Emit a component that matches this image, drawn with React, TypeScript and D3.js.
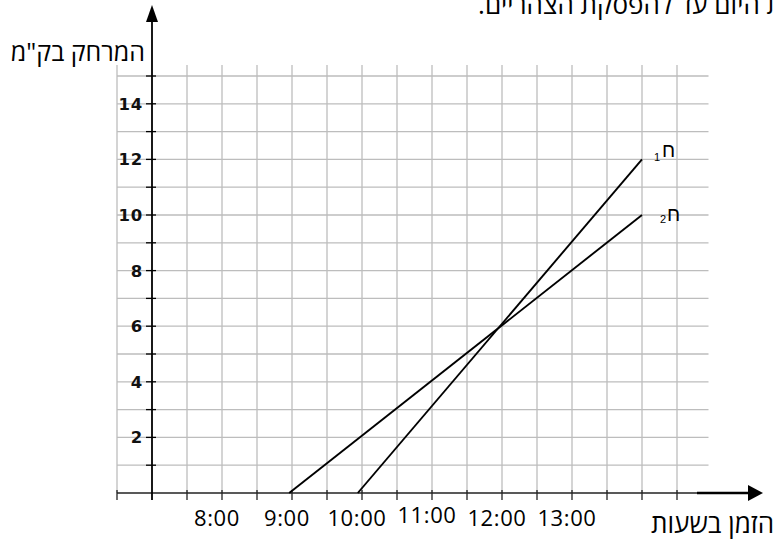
import React from "react";
import * as d3 from "d3";

// ---- data ----
const hourTicks = [8, 9, 10, 11, 12, 13];
const hourLabels = ["8:00", "9:00", "10:00", "11:00", "12:00", "13:00"];
const distTickLabels = [2, 4, 6, 8, 10, 12, 14];
const distMinorTicks = [1, 3, 5, 7, 9, 11, 13, 15];
const gridTimes = [6.5, 7.5, 8, 8.5, 9, 9.5, 10, 10.5, 11, 11.5, 12, 12.5, 13, 13.5, 14, 14.5];
const gridDists = [1, 2, 3, 4, 5, 6, 7, 8, 9, 10, 11, 12, 13, 14, 15];
const seriesNames = ["ח", "ח"];
const seriesSubs = ["1", "2"];
const s1Times = [9.94, 14];
const s1Dist = [0, 12];
const s2Times = [8.96, 14];
const s2Dist = [0, 10];
const yTitle = "המרחק בק\"מ";
const xTitle = "הזמן בשעות";
const topText = "ת היום עד להפסקת הצהריים.";

export default function App() {
  const W = 776, H = 541;
  const x = d3.scaleLinear().domain([7, 14]).range([152, 642]);
  const y = d3.scaleLinear().domain([0, 15]).range([493, 76]);
  const line = d3.line<[number, number]>().x(d => x(d[0])).y(d => y(d[1]));
  const s1 = s1Times.map((t, i) => [t, s1Dist[i]] as [number, number]);
  const s2 = s2Times.map((t, i) => [t, s2Dist[i]] as [number, number]);
  const y0 = y(0);
  const x0 = x(7);
  const gridRight = x(14.95);
  const gridLeft = x(6.5);
  const gridTop = y(15) - 11;
  const heb = "'Open Sans', 'DejaVu Sans', sans-serif";

  return (
    <svg width={W} height={H} style={{ position: "absolute", left: 0, top: 0, background: "#fff" }}>
      <defs>
        <clipPath id="clip11">
          <rect x={0} y={0} width={W} height={523} />
        </clipPath>
      </defs>
      <rect x={0} y={0} width={W} height={H} fill="#fff" />
      {/* top clipped sentence */}
      <text x={783} y={14} fontSize={26} fontFamily={heb} fill="#000" style={{ direction: "rtl" }} textAnchor="start">
        {topText}
      </text>
      {/* grid */}
      <g stroke="#bdbdbd" strokeWidth={1.3}>
        {gridTimes.map(t => (
          <line key={"v" + t} x1={x(t)} x2={x(t)} y1={gridTop} y2={y0} />
        ))}
        {gridDists.map(v => (
          <line key={"h" + v} x1={gridLeft} x2={gridRight} y1={y(v)} y2={y(v)} />
        ))}
      </g>
      {/* x axis */}
      <line x1={gridLeft} x2={697} y1={y0} y2={y0} stroke="#222" strokeWidth={1.3} />
      <line x1={697} x2={750} y1={y0} y2={y0} stroke="#000" strokeWidth={2.6} />
      <path d={`M${748},${y0 - 8}L${763},${y0}L${748},${y0 + 8}Z`} fill="#000" />
      {gridTimes.map(t => (
        <line key={"xt" + t} x1={x(t)} x2={x(t)} y1={y0 - 3} y2={y0 + 7} stroke="#222" strokeWidth={1.3} />
      ))}
      {/* y axis */}
      <line x1={x0} x2={x0} y1={y0 + 7} y2={20} stroke="#000" strokeWidth={1.8} />
      <path d={`M${x0 - 6},${22}L${x0},${5}L${x0 + 6},${22}Z`} fill="#000" />
      {[...distTickLabels, ...distMinorTicks].map(v => (
        <line key={"yt" + v} x1={x0 - 6} x2={x0 + 4} y1={y(v)} y2={y(v)} stroke="#000" strokeWidth={1.3} />
      ))}
      {distTickLabels.map(v => (
        <text key={"yl" + v} x={143} y={y(v) + 6} textAnchor="end" fontFamily="'DejaVu Sans', sans-serif" fontWeight="bold" fontSize={16.5} letterSpacing={0.8} fill="#111">
          {v}
        </text>
      ))}
      {/* hour labels */}
      {hourTicks.map((t, i) => (
        <text key={"hl" + t} x={x(t) - 5} y={t === 11 ? 523 : 526} textAnchor="middle" fontFamily={heb} fontSize={22} letterSpacing={0.6} fill="#000"
          clipPath={t === 11 ? "url(#clip11)" : undefined}>
          {hourLabels[i]}
        </text>
      ))}
      {/* titles */}
      <text x={145} y={61} textAnchor="end" fontFamily={heb} fontSize={25} fill="#000">{yTitle}</text>
      <text x={774} y={533} textAnchor="end" fontFamily={heb} fontSize={26} fill="#000">{xTitle}</text>
      {/* series */}
      <path d={line(s1) || ""} fill="none" stroke="#000" strokeWidth={1.9} />
      <path d={line(s2) || ""} fill="none" stroke="#000" strokeWidth={1.9} />
      <text x={x(14) + 20} y={y(12) - 2} fontFamily="'Liberation Sans', Arial, sans-serif" fontSize={20} fill="#000">{seriesNames[0]}</text>
      <text x={x(14) + 18} y={y(12) + 2} textAnchor="end" fontFamily="'Liberation Sans', Arial, sans-serif" fontSize={11} fill="#000">{seriesSubs[0]}</text>
      <text x={x(14) + 25} y={y(10) + 6} fontFamily="'Liberation Sans', Arial, sans-serif" fontSize={20} fill="#000">{seriesNames[1]}</text>
      <text x={x(14) + 24} y={y(10) + 8} textAnchor="end" fontFamily="'Liberation Sans', Arial, sans-serif" fontSize={11} fill="#000">{seriesSubs[1]}</text>
    </svg>
  );
}
